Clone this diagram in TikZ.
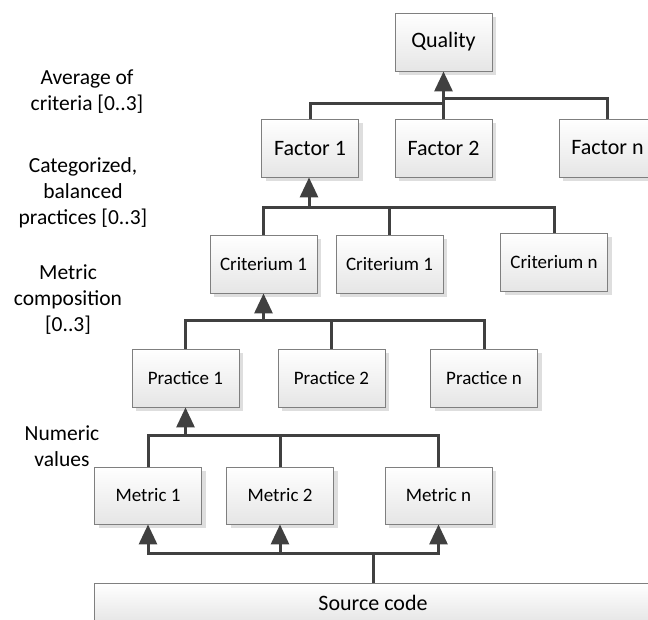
\documentclass[tikz,border=0pt]{standalone}
\usepackage{fontspec}
\setmainfont{Carlito}
\usetikzlibrary{arrows.meta,shadows}
\definecolor{linec}{HTML}{404040}
\definecolor{boxline}{HTML}{7F7F7F}
\begin{document}
\begin{tikzpicture}[x=1pt,y=-1pt,
  box/.style={draw=boxline, line width=0.9pt, top color=white, bottom color=black!10,
    minimum width=107pt, minimum height=58pt, inner sep=0pt,
    font=\fontsize{19}{23}\selectfont,
    general shadow={shadow xshift=4pt, shadow yshift=-4pt, fill=black!13}},
  bigbox/.style={box, minimum width=97pt, font=\fontsize{22}{26}\selectfont},
  lab/.style={align=center, inner sep=0pt, font=\fontsize{21.5}{26}\selectfont},
  link/.style={draw=linec, line width=3pt},
  arr/.style={link, -{Triangle[width=18pt,length=20pt]}}
]
\clip (0,0) rectangle (648,619);
% boxes
\node[bigbox] (q)  at (443.5,42) {Quality};
\node[bigbox] (f1) at (310,148) {Factor 1};
\node[bigbox] (f2) at (443.5,148) {Factor 2};
\node[bigbox] (fn) at (607.5,148) {Factor n};
\node[box] (c1) at (263.5,264) {Criterium 1};
\node[box] (c2) at (389.5,264) {Criterium 1};
\node[box] (cn) at (554,262) {Criterium n};
\node[box] (p1) at (185.5,378) {Practice 1};
\node[box] (p2) at (331.5,378) {Practice 2};
\node[box] (pn) at (484,378) {Practice n};
\node[box, minimum height=57pt] (m1) at (148,495.5) {Metric 1};
\node[box, minimum height=57pt] (m2) at (280,495.5) {Metric 2};
\node[box, minimum height=57pt] (mn) at (438.5,495.5) {Metric n};
\node[box, minimum width=558pt, minimum height=40pt, font=\fontsize{22}{26}\selectfont] (src) at (373,603) {Source code};
% labels
\node[lab] (l1) at (87,91.5) {Average of\\criteria [0..3]};
\node[lab] (l2) at (83,193) {Categorized,\\balanced\\practices [0..3]};
\node[lab] (l3) at (68,300) {Metric\\composition\\{}[0..3]};
\node[lab] (l4) at (62,446) {Numeric\\values};
% quality level
\coordinate (qb1) at (443.5,103);
\coordinate (qb2) at (443.5,98);
\draw[link] (f1.north) |- (qb1);
\draw[link] (fn.north) |- (qb2);
\draw[arr] (f2.north) -- (q.south);
% criteria level
\coordinate (cbus) at (309,207);
\draw[link] (c1.north) |- (cbus) -| (cn.north);
\draw[link] (c2.north) -- (c2.north |- cbus);
\draw[arr] (cbus) -- (f1.south -| cbus);
% practice level
\coordinate (pbus) at (263.5,320);
\draw[link] (p1.north) |- (pbus) -| (pn.north);
\draw[link] (p2.north) -- (p2.north |- pbus);
\draw[arr] (pbus) -- (c1.south);
% metric level
\coordinate (mbus) at (185.5,435);
\draw[link] (m1.north) |- (mbus) -| (mn.north);
\draw[link] (m2.north) -- (m2.north |- mbus);
\draw[arr] (mbus) -- (p1.south);
% source level
\coordinate (sbus) at (373,553);
\draw[link] (src.north) -- (sbus);
\draw[arr] (sbus) -| (m1.south);
\draw[arr] (sbus) -| (mn.south);
\draw[arr] (m2.south |- sbus) -- (m2.south);
\end{tikzpicture}
\end{document}
